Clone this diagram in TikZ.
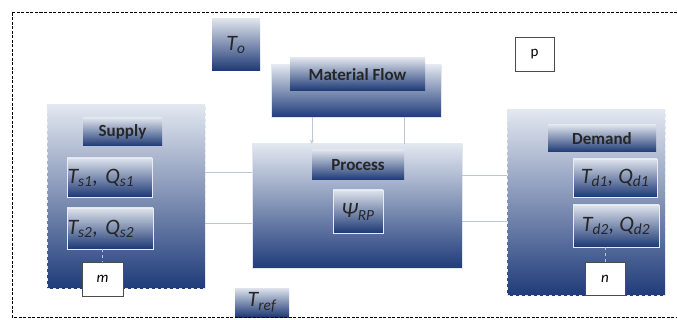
\documentclass[tikz,border=0pt]{standalone}
\usepackage{fontspec}
\setmainfont{Carlito}
\usetikzlibrary{positioning,calc,arrows.meta}

\definecolor{paneltop}{RGB}{226,231,240}
\definecolor{panelmid}{RGB}{142,160,193}
\definecolor{panelbot}{RGB}{32,60,122}
\definecolor{tagtop}{RGB}{222,227,236}
\definecolor{tagmid}{RGB}{138,156,192}
\definecolor{tagbot}{RGB}{28,56,116}
\definecolor{linkgray}{RGB}{188,198,214}

\tikzset{
  panel/.style={rectangle, inner sep=0pt, top color=paneltop, middle color=panelmid, bottom color=panelbot, draw=paneltop, line width=0.6pt},
  tag/.style={rectangle, inner sep=0pt, top color=tagtop, middle color=tagmid, bottom color=tagbot, font=\bfseries\fontsize{17}{18}\selectfont, text=black!85},
  var/.style={tag, draw=white!80!tagmid, line width=0.5pt, font=\itshape\fontsize{22}{23}\selectfont},
  leftvar/.style={var, text width=#1, align=left},
  count/.style={rectangle, inner sep=0pt, draw=black!70, fill=white, line width=0.8pt, font=\itshape\fontsize{15}{16}\selectfont},
  link/.style={draw=linkgray, line width=0.6pt},
}

\begin{document}
\begin{tikzpicture}[x=1pt, y=-1pt]
	\useasboundingbox (0,0) rectangle (677,320);
	
	% containers
	\node[panel, dashed, minimum width=158pt, minimum height=183pt] (supply) at (126,196.5) {};
	\node[panel, dashed, minimum width=158pt, minimum height=185pt] (demand) at (586,202.5) {};
	\node[panel, minimum width=210pt, minimum height=124pt] (process) at (357,206) {};
	\node[panel, minimum width=170pt, minimum height=52pt] (flow) at (356,91) {};
	
	% titles
	\node[tag, minimum width=135pt, minimum height=33pt] (flowtag) at (357.5,74.5) {Material Flow};
	\node[tag, minimum width=92pt, minimum height=30pt] (proctag) at (358,165) {Process};
	\node[tag, minimum width=79pt, minimum height=28pt] (suptag) at (122.5,132) {Supply};
	\node[tag, minimum width=108pt, minimum height=27pt] (demtag) at (602,138.5) {Demand};
	
	% variables
	\node[var, draw=none, minimum width=48pt, minimum height=52pt] (to) at (236,45) {T\textsubscript{o}};
	\node[var, minimum width=50pt, minimum height=43pt] (psi) at (358,211.5) {Ψ\textsubscript{RP}};
	\node[leftvar=84pt, minimum width=85pt, minimum height=39pt] (ts1) at (109.5,177.5) {T\textsubscript{s1}, Q\textsubscript{s1}};
	\node[leftvar=85pt, minimum width=86pt, minimum height=41pt] (ts2) at (110,228.5) {T\textsubscript{s2}, Q\textsubscript{s2}};
	\node[var, minimum width=84pt, minimum height=38pt] (td1) at (615,178) {T\textsubscript{d1}, Q\textsubscript{d1}};
	\node[var, minimum width=86pt, minimum height=42pt] (td2) at (616,226) {T\textsubscript{d2}, Q\textsubscript{d2}};
	\node[var, draw=none, minimum width=54pt, minimum height=29pt] (tref) at (262,302.5) {T\textsubscript{ref}};
	
	% counters
	\node[count, minimum width=41pt, minimum height=34pt] (m) at (102.5,279) {m};
	\node[count, minimum width=40pt, minimum height=33pt] (n) at (605,278.5) {n};
	\node[count, font=\fontsize{15}{16}\selectfont, minimum width=39pt, minimum height=34pt] (p) at (534.5,54) {p};
	
	% links
	\draw[link, -{Stealth[length=4pt,width=4pt]}] (proctag.west |- flow.south) -- (proctag.west |- process.north);
	\draw[link] (proctag.east |- flow.south) -- (proctag.east |- process.north);
	\draw[link] ([yshift=5pt]supply.east |- ts1.center) -- ([yshift=5pt]process.west |- ts1.center);
	\draw[link] ([yshift=5pt]supply.east |- ts2.center) -- ([yshift=5pt]process.west |- ts2.center);
	\draw[link] ([yshift=3pt]process.east |- td1.center) -- ([yshift=3pt]demand.west |- td1.center);
	\draw[link] ([yshift=5pt]process.east |- td2.center) -- ([yshift=5pt]demand.west |- td2.center);
	\draw[link, dashed] (m.north |- ts2.south) -- (m.north);
	\draw[link, dashed] (n.north |- td2.south) -- (n.north);
	
	% frame
	\draw[dash pattern=on 3pt off 1.5pt, line width=0.6pt] (677,12) -- (12,12) -- (12,317) -- (677,317);
	
\end{tikzpicture}
\end{document}
